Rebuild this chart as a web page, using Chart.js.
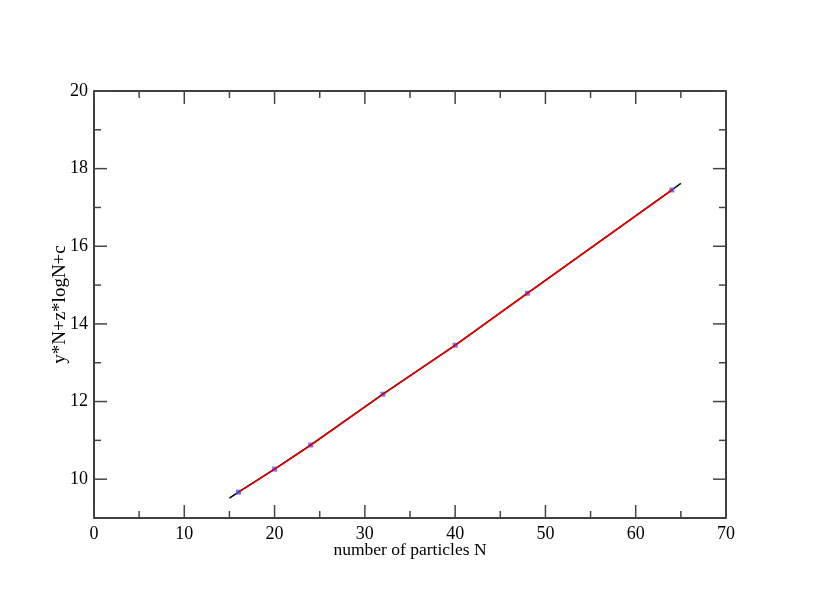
<!DOCTYPE html>
<html>
<head>
<meta charset="utf-8">
<script src="https://cdn.jsdelivr.net/npm/chart.js@4/dist/chart.umd.min.js"></script>
<style>
  html, body { margin: 0; padding: 0; background: #fff; }
  canvas { display: block; }
</style>
</head>
<body>
<canvas id="chart" width="817" height="610"></canvas>
<script>
// data
const particlesN = [16, 20, 24, 32, 40, 48, 64];
const energyValues = [9.665, 10.26, 10.88, 12.19, 13.45, 14.79, 17.45];
// fitted curve (black), only visible past the end points
const fitN = [15, 16, 20, 24, 32, 40, 48, 64, 65];
const fitValues = [9.51, 9.665, 10.26, 10.88, 12.19, 13.45, 14.79, 17.45, 17.62];

const xTicks = [0, 10, 20, 30, 40, 50, 60, 70];
const xMinorTicks = [5, 15, 25, 35, 45, 55, 65];
const yTicks = [10, 12, 14, 16, 18, 20];
const yMinorTicks = [11, 13, 15, 17, 19];

const toPoints = (xs, ys) => xs.map((x, i) => ({ x: x, y: ys[i] }));

// frame + inward ticks on all four sides
const framePlugin = {
  id: 'frame',
  afterDraw(chart) {
    const ctx = chart.ctx;
    const a = chart.chartArea;
    const xs = chart.scales.x, ys = chart.scales.y;
    ctx.save();
    ctx.strokeStyle = '#000';
    ctx.lineWidth = 1.5;
    ctx.strokeRect(a.left, a.top, a.right - a.left, a.bottom - a.top);

    ctx.strokeStyle = '#444';
    ctx.lineWidth = 1.5;
    const tick = (x1, y1, x2, y2) => {
      ctx.beginPath(); ctx.moveTo(x1, y1); ctx.lineTo(x2, y2); ctx.stroke();
    };
    const drawX = (vals, len) => vals.forEach(v => {
      const px = xs.getPixelForValue(v);
      tick(px, a.bottom, px, a.bottom - len);
      tick(px, a.top, px, a.top + len);
    });
    const drawY = (vals, len) => vals.forEach(v => {
      const py = ys.getPixelForValue(v);
      tick(a.left, py, a.left + len, py);
      tick(a.right, py, a.right - len, py);
    });
    drawX(xTicks, 13); drawX(xMinorTicks, 7);
    drawY(yTicks, 13); drawY(yMinorTicks, 7);
    ctx.restore();
  }
};

const serif = 'Liberation Serif';

new Chart(document.getElementById('chart'), {
  type: 'scatter',
  data: {
    datasets: [
      {
        label: 'fit',
        data: toPoints(fitN, fitValues),
        showLine: true,
        borderColor: '#000',
        borderWidth: 1.5,
        pointRadius: 0,
        order: 4
      },
      {
        label: 'points',
        data: toPoints(particlesN, energyValues),
        showLine: false,
        pointStyle: 'rect',
        pointRadius: 3.5,
        backgroundColor: 'rgba(80,80,255,0.8)',
        borderWidth: 0,
        order: 3
      },
      {
        label: 'curve',
        data: toPoints(particlesN, energyValues),
        showLine: true,
        borderColor: '#e00000',
        borderWidth: 1.6,
        pointRadius: 0,
        order: 2
      }
    ]
  },
  options: {
    responsive: false,
    animation: false,
    layout: { padding: { left: 0, right: 91, top: 91, bottom: 0 } },
    plugins: { legend: { display: false }, tooltip: { enabled: false } },
    scales: {
      x: {
        type: 'linear',
        min: 0,
        max: 70,
        afterBuildTicks: s => { s.ticks = xTicks.map(v => ({ value: v })); },
        afterFit: s => { s.height = 92; },
        grid: { display: false, drawTicks: false },
        border: { display: false },
        ticks: { color: '#000', padding: 5, font: { family: serif, size: 18 } },
        title: {
          display: true,
          text: 'number of particles N',
          color: '#000',
          font: { family: serif, size: 17.5 },
          padding: { top: 0, bottom: 49.5 }
        }
      },
      y: {
        type: 'linear',
        min: 9,
        max: 20,
        afterBuildTicks: s => { s.ticks = yTicks.map(v => ({ value: v })); },
        afterFit: s => { s.width = 94; },
        grid: { display: false, drawTicks: false },
        border: { display: false },
        ticks: { color: '#000', padding: 6, font: { family: serif, size: 18 } },
        title: {
          display: true,
          text: 'y*N+z*logN+c',
          color: '#000',
          font: { family: serif, size: 19 },
          padding: { top: 48.5, bottom: 0 }
        }
      }
    }
  },
  plugins: [framePlugin]
});
</script>
</body>
</html>
